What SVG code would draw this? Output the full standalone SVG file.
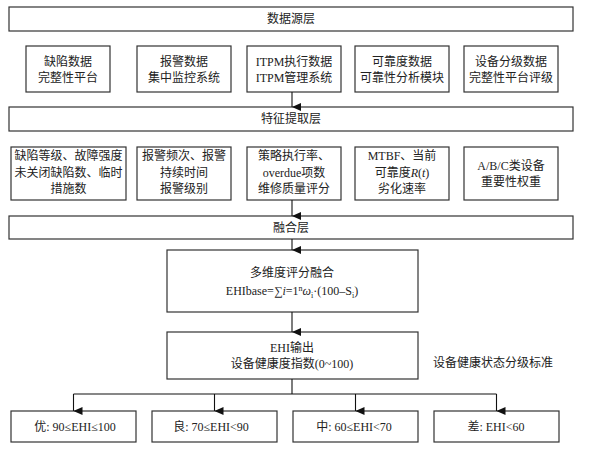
<svg xmlns="http://www.w3.org/2000/svg" width="600" height="450" viewBox="0 0 600 450">
<defs>
<marker id="arr" viewBox="0 0 8 9" refX="4" refY="9" markerWidth="8" markerHeight="9" markerUnits="userSpaceOnUse" orient="auto-start-reverse">
<path d="M0,0 L8,0 L4,9 Z" fill="#111"/>
</marker>
<style>
.box{fill:#fff;stroke:#333;stroke-width:1.2}
.t{font-family:"Liberation Serif","Noto Sans CJK SC",serif;font-size:12px;fill:#222;text-anchor:middle}
.c{stroke:#111;stroke-width:1.1;fill:none}
</style>
</defs>
<rect width="600" height="450" fill="#fff"/>

<g id="layer-source"><rect class="box" x="9" y="7" width="564" height="24"/><text class="t" x="291" y="23">数据源层</text></g>

<g id="src1"><rect class="box" x="26" y="46" width="84" height="46"/><text class="t" x="68" y="66">缺陷数据</text><text class="t" x="68" y="82">完整性平台</text></g>
<g id="src2"><rect class="box" x="137" y="46" width="94" height="46"/><text class="t" x="184" y="66">报警数据</text><text class="t" x="184" y="82">集中监控系统</text></g>
<g id="src3"><rect class="box" x="247" y="46" width="94" height="46"/><text class="t" x="294" y="66">ITPM执行数据</text><text class="t" x="294" y="82">ITPM管理系统</text></g>
<g id="src4"><rect class="box" x="355" y="46" width="94" height="46"/><text class="t" x="402" y="66">可靠度数据</text><text class="t" x="402" y="82">可靠性分析模块</text></g>
<g id="src5"><rect class="box" x="464" y="46" width="94" height="46"/><text class="t" x="511" y="66">设备分级数据</text><text class="t" x="511" y="82">完整性平台评级</text></g>

<g id="layer-feature"><rect class="box" x="9" y="107" width="564" height="24"/><text class="t" x="291" y="123">特征提取层</text></g>

<g id="f1"><rect class="box" x="11" y="147" width="115" height="53"/><text class="t" x="68.5" y="160">缺陷等级、故障强度</text><text class="t" x="68.5" y="177">未关闭缺陷数、临时</text><text class="t" x="68.5" y="193">措施数</text></g>
<g id="f2"><rect class="box" x="137" y="147" width="94" height="53"/><text class="t" x="184" y="160">报警频次、报警</text><text class="t" x="184" y="177">持续时间</text><text class="t" x="184" y="193">报警级别</text></g>
<g id="f3"><rect class="box" x="247" y="147" width="94" height="53"/><text class="t" x="294" y="160">策略执行率、</text><text class="t" x="294" y="177">overdue项数</text><text class="t" x="294" y="193">维修质量评分</text></g>
<g id="f4"><rect class="box" x="355" y="147" width="94" height="53"/><text class="t" x="402" y="160">MTBF、当前</text><text class="t" x="402" y="177">可靠度<tspan font-style="italic">R</tspan>(<tspan font-style="italic">t</tspan>)</text><text class="t" x="402" y="193">劣化速率</text></g>
<g id="f5"><rect class="box" x="464" y="147" width="94" height="53"/><text class="t" x="511" y="170">A/B/C类设备</text><text class="t" x="511" y="186">重要性权重</text></g>

<g id="layer-fusion"><rect class="box" x="9" y="216" width="564" height="23"/><text class="t" x="291" y="232">融合层</text></g>

<g id="fusion"><rect class="box" x="167" y="250" width="251" height="62"/><text class="t" x="292" y="277">多维度评分融合</text><text class="t" x="292" y="295">EHIbase=∑<tspan font-style="italic">i</tspan>=1<tspan font-size="8" dy="-4">n</tspan><tspan font-style="italic" dy="4">ω</tspan><tspan font-size="8" dy="3">i</tspan><tspan dy="-3">·(100–S</tspan><tspan font-size="8" dy="3">i</tspan><tspan dy="-3">)</tspan></text></g>

<g id="ehi"><rect class="box" x="167" y="332" width="251" height="47"/><text class="t" x="292" y="352">EHI输出</text><text class="t" x="292" y="368">设备健康度指数(0~100)</text></g>

<g id="label-standard"><text class="t" x="493" y="367">设备健康状态分级标准</text></g>

<g id="g1"><rect class="box" x="11" y="411" width="125" height="31"/><text class="t" x="75" y="431">优: 90≤EHI≤100</text></g>
<g id="g2"><rect class="box" x="152" y="411" width="125" height="31"/><text class="t" x="211" y="431">良: 70≤EHI&lt;90</text></g>
<g id="g3"><rect class="box" x="293" y="411" width="125" height="31"/><text class="t" x="354" y="431">中: 60≤EHI&lt;70</text></g>
<g id="g4"><rect class="box" x="434" y="411" width="125" height="31"/><text class="t" x="496" y="431">差: EHI&lt;60</text></g>

<g id="connectors">
<line class="c" x1="292" y1="92" x2="292" y2="107" marker-end="url(#arr)"/>
<line class="c" x1="292" y1="200" x2="292" y2="216" marker-end="url(#arr)"/>
<line class="c" x1="292" y1="239" x2="292" y2="250" marker-end="url(#arr)"/>
<line class="c" x1="292" y1="312" x2="292" y2="332" marker-end="url(#arr)"/>
<polyline class="c" points="292,379 292,394"/>
<polyline class="c" points="73.5,394 496.5,394"/>
<line class="c" x1="73.5" y1="394" x2="73.5" y2="411" marker-end="url(#arr)"/>
<line class="c" x1="214.5" y1="394" x2="214.5" y2="411" marker-end="url(#arr)"/>
<line class="c" x1="355.5" y1="394" x2="355.5" y2="411" marker-end="url(#arr)"/>
<line class="c" x1="496.5" y1="394" x2="496.5" y2="411" marker-end="url(#arr)"/>
</g>
</svg>
